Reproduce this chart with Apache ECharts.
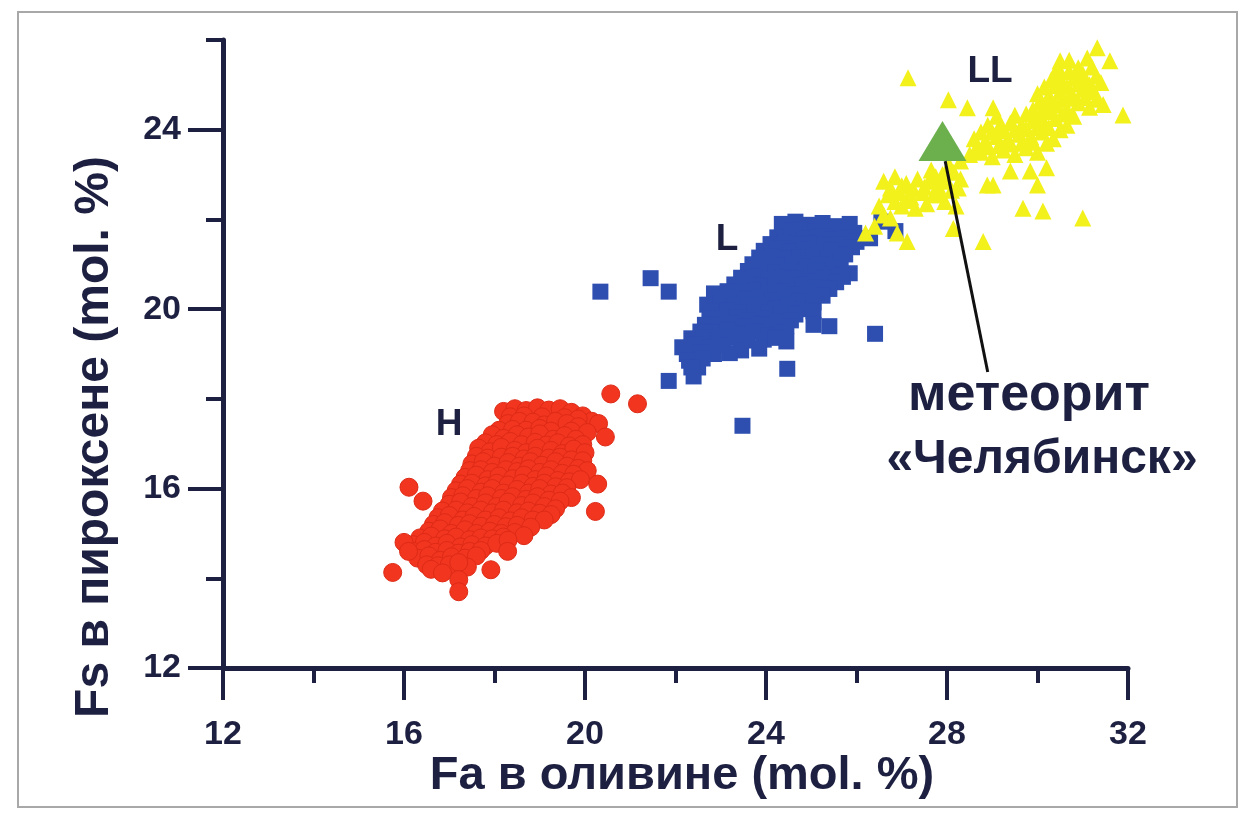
<!DOCTYPE html>
<html>
<head>
<meta charset="utf-8">
<script src="https://cdn.jsdelivr.net/npm/echarts@6/dist/echarts.min.js"></script>
<style>
html,body{margin:0;padding:0;background:#fff;}
#chart{width:1242px;height:813px;}
</style>
</head>
<body>
<div id="chart"></div>
<script>
// ---- data (Fa in olivine, Fs in pyroxene, mol. %) ----
const xTicks = [12, 16, 20, 24, 28, 32];
const yTicks = [12, 16, 20, 24];
const yMinorTicks = [14, 18, 22, 26];

const hPoints = [
  [18.2,17.72],[18.45,17.78],[18.7,17.74],[18.95,17.8],[19.2,17.75],[19.45,17.78],[19.7,17.7],[19.95,17.62],[20.15,17.5],
  [18.35,17.6],[18.65,17.62],[19.05,17.6],[19.55,17.58],[19.85,17.55],
  [18.3,17.45],[18.55,17.5],[18.85,17.48],[19.1,17.42],[19.35,17.5],[19.6,17.45],[19.85,17.38],[20.3,17.45],
  [18.1,17.3],[18.4,17.32],[18.7,17.3],[19.0,17.34],[19.25,17.28],[19.7,17.28],[20.05,17.25],
  [17.95,17.2],[18.2,17.12],[18.5,17.2],[18.75,17.15],[19.0,17.22],[19.3,17.1],[19.55,17.18],[19.8,17.1],[20.45,17.15],
  [17.8,17.02],[18.05,16.98],[18.35,17.05],[18.6,16.98],[18.9,17.03],[19.15,16.97],[19.4,17.02],[19.65,16.95],[19.95,16.98],
  [17.65,16.9],[17.9,16.82],[18.15,16.92],[18.45,16.85],[18.7,16.8],[18.95,16.9],[19.25,16.85],[19.5,16.78],[19.75,16.88],[20.0,16.8],
  [17.6,16.72],[17.85,16.68],[18.15,16.7],[18.4,16.72],[18.65,16.66],[18.9,16.72],[19.2,16.68],[19.45,16.7],[19.7,16.64],[19.95,16.62],
  [17.5,16.55],[17.75,16.6],[18.0,16.5],[18.3,16.58],[18.55,16.5],[18.8,16.6],[19.05,16.52],[19.35,16.6],[19.6,16.5],[19.85,16.45],[20.05,16.4],
  [17.45,16.4],[17.7,16.42],[17.95,16.36],[18.25,16.42],[18.5,16.38],[18.75,16.44],[19.0,16.36],[19.25,16.42],[19.5,16.34],[19.75,16.32],
  [17.35,16.25],[17.6,16.3],[17.85,16.2],[18.1,16.28],[18.4,16.22],[18.65,16.3],[18.9,16.2],[19.15,16.28],[19.4,16.18],[19.65,16.15],[19.9,16.2],
  [17.25,16.1],[17.5,16.12],[17.8,16.06],[18.05,16.12],[18.3,16.08],[18.6,16.12],[18.85,16.05],[19.1,16.12],[19.35,16.04],[19.6,16.02],
  [17.15,15.95],[17.4,16.0],[17.7,15.92],[17.95,16.0],[18.2,15.9],[18.5,15.98],[18.75,15.9],[19.0,16.0],[19.25,15.88],[19.5,15.9],[19.7,15.8],
  [17.05,15.8],[17.3,15.84],[17.6,15.78],[17.85,15.84],[18.15,15.78],[18.4,15.82],[18.7,15.76],[18.95,15.82],[19.2,15.74],[19.45,15.72],
  [17.0,15.65],[17.25,15.7],[17.5,15.6],[17.8,15.68],[18.05,15.6],[18.3,15.7],[18.6,15.62],[18.85,15.68],[19.1,15.6],[19.35,15.55],
  [16.85,15.5],[17.15,15.52],[17.4,15.46],[17.7,15.52],[17.95,15.46],[18.2,15.52],[18.5,15.46],[18.75,15.5],[19.0,15.45],[19.25,15.42],
  [16.75,15.35],[17.0,15.4],[17.3,15.3],[17.55,15.38],[17.8,15.3],[18.1,15.35],[18.35,15.28],[18.6,15.35],[18.85,15.3],[19.1,15.3],
  [16.65,15.2],[16.9,15.24],[17.2,15.18],[17.45,15.22],[17.7,15.16],[18.0,15.2],[18.25,15.15],[18.5,15.18],[18.8,15.14],
  [16.55,15.05],[16.8,15.1],[17.05,15.0],[17.35,15.08],[17.6,15.0],[17.9,15.05],[18.15,15.0],[18.45,15.02],[18.65,14.95],
  [16.35,14.9],[16.6,14.94],[16.9,14.88],[17.15,14.92],[17.45,14.86],[17.7,14.9],[17.95,14.88],[18.2,14.92],
  [16.2,14.75],[16.45,14.8],[16.7,14.72],[16.95,14.78],[17.25,14.7],[17.5,14.75],[17.8,14.72],[18.05,14.78],[18.3,14.85],
  [16.2,14.6],[16.45,14.64],[16.7,14.58],[16.95,14.62],[17.2,14.56],[17.45,14.6],[17.7,14.62],
  [16.3,14.45],[16.55,14.5],[16.8,14.4],[17.05,14.48],[17.35,14.45],[17.6,14.5],
  [16.5,14.3],[16.75,14.28],[17.0,14.3],
  [16.6,14.2],[16.85,14.12],[17.4,14.25],[16.0,14.8],[16.1,14.6],
  [20.57,18.11],[21.16,17.89],[16.11,16.03],[16.42,15.72],[15.75,14.13],[20.28,16.1],[20.23,15.49],
  [18.29,14.6],[17.92,14.19],[17.21,14.35],[17.21,13.97],[17.21,13.7]
];

const lPoints = [
  [24.35,21.9],[24.65,21.95],[24.95,21.88],[25.25,21.92],[25.55,21.85],[25.85,21.9],
  [24.45,21.75],[24.8,21.78],[25.1,21.74],[25.4,21.76],[25.7,21.72],[25.95,21.7],
  [24.25,21.6],[24.55,21.65],[24.85,21.58],[25.15,21.62],[25.45,21.55],[25.75,21.6],[26.0,21.5],
  [24.1,21.45],[24.4,21.48],[24.7,21.44],[25.0,21.46],[25.3,21.42],[25.6,21.44],[25.9,21.38],
  [23.95,21.3],[24.25,21.35],[24.55,21.28],[24.85,21.32],[25.15,21.25],[25.45,21.3],[25.75,21.22],
  [23.85,21.15],[24.15,21.18],[24.45,21.12],[24.75,21.16],[25.05,21.1],[25.35,21.14],[25.65,21.08],
  [23.7,21.0],[24.0,21.05],[24.3,20.98],[24.6,21.02],[24.9,20.95],[25.2,21.0],[25.5,20.92],[25.85,20.8],
  [23.6,20.85],[23.9,20.88],[24.2,20.82],[24.5,20.86],[24.8,20.8],[25.1,20.84],[25.4,20.78],[25.7,20.72],
  [23.45,20.7],[23.75,20.72],[24.05,20.65],[24.35,20.7],[24.65,20.68],[24.95,20.62],[25.25,20.7],[25.55,20.6],
  [23.3,20.55],[23.6,20.58],[23.9,20.52],[24.2,20.56],[24.5,20.5],[24.8,20.54],[25.1,20.48],[25.4,20.45],
  [22.85,20.35],[23.15,20.4],[23.45,20.38],[23.75,20.42],[24.05,20.35],[24.35,20.4],[24.65,20.32],[24.95,20.38],[25.25,20.3],
  [22.95,20.25],[23.25,20.28],[23.55,20.22],[23.85,20.26],[24.15,20.2],[24.45,20.24],[24.75,20.18],[25.05,20.15],
  [22.7,20.1],[23.0,20.12],[23.3,20.05],[23.6,20.1],[23.9,20.08],[24.2,20.02],[24.5,20.1],[24.8,20.0],[25.05,19.95],
  [22.85,19.95],[23.15,19.97],[23.45,19.93],[23.75,19.96],[24.05,19.9],[24.35,19.92],[24.65,19.88],
  [22.75,19.8],[23.05,19.78],[23.35,19.82],[23.65,19.75],[23.95,19.8],[24.25,19.72],[24.55,19.75],[25.05,19.65],[25.4,19.62],
  [22.65,19.65],[22.95,19.64],[23.25,19.67],[23.55,19.62],[23.85,19.65],[24.15,19.6],[24.45,19.62],
  [22.55,19.5],[22.85,19.48],[23.15,19.52],[23.45,19.45],[23.75,19.5],[24.05,19.42],[24.35,19.48],
  [22.35,19.35],[22.65,19.36],[22.95,19.34],[23.25,19.37],[23.6,19.3],[23.95,19.32],[24.2,19.36],
  [22.15,19.15],[22.45,19.22],[22.75,19.15],[23.05,19.2],[23.45,19.08],[23.85,19.12],[24.45,19.28],
  [22.25,19.0],[22.55,19.04],[22.85,19.0],[23.2,19.02],
  [22.3,18.85],[22.5,18.7],[22.6,18.9],[22.35,18.7],[22.4,18.5],
  [20.34,20.39],[21.45,20.69],[21.85,20.39],[21.85,18.4],[23.48,17.4],[24.47,18.67],[26.41,19.45],
  [26.3,21.58],[26.86,21.74],[26.55,21.95]
];

const llPoints = [
  [26.6,22.85],[26.85,22.95],[27.1,22.8],[27.35,22.9],[27.6,22.85],[26.75,22.7],[27.0,22.75],[27.25,22.68],[27.5,22.72],
  [26.7,22.55],[26.95,22.6],[27.2,22.5],[27.45,22.6],[27.7,22.55],[26.85,22.4],[27.1,22.42],[27.55,22.35],
  [27.0,22.3],[27.3,22.25],[26.5,22.3],[26.6,22.1],[26.4,21.85],[26.2,21.7],[26.75,22.03],[27.12,21.51],[26.9,21.7],
  [27.65,23.1],[27.9,23.0],[28.15,23.05],[27.75,22.95],[28.0,22.85],[27.8,22.75],[28.25,22.7],[28.1,22.65],[28.3,22.9],
  [27.85,22.55],[27.95,22.4],[28.2,22.3],[28.05,23.2],[28.14,21.8],[28.8,21.51],[28.3,23.3],
  [28.5,23.45],[28.75,23.5],[29.0,23.4],[29.25,23.55],[29.5,23.45],[29.75,23.6],[30.0,23.5],
  [28.65,23.6],[28.9,23.62],[29.15,23.65],[29.4,23.68],[29.65,23.7],[29.9,23.72],[30.2,23.7],
  [28.6,23.8],[28.85,23.75],[29.1,23.85],[29.35,23.8],[29.6,23.9],[29.85,23.85],[30.1,23.95],[30.35,23.8],
  [28.75,23.95],[29.0,23.95],[29.25,23.98],[29.5,24.0],[29.75,24.02],[30.0,24.05],[30.25,24.05],[30.5,24.0],
  [28.9,24.1],[29.15,24.05],[29.4,24.15],[29.65,24.1],[29.9,24.2],[30.15,24.15],[30.4,24.25],[30.65,24.1],
  [29.1,24.3],[29.5,24.32],[29.75,24.35],[30.05,24.32],[30.3,24.4],[30.55,24.35],[30.8,24.3],
  [29.9,24.45],[30.15,24.5],[30.4,24.55],[30.65,24.45],[30.9,24.6],[31.15,24.5],
  [30.05,24.62],[30.3,24.65],[30.55,24.68],[30.8,24.7],[31.05,24.72],[31.3,24.68],
  [30.0,24.8],[30.25,24.75],[30.5,24.85],[30.75,24.8],[31.0,24.9],[31.25,24.85],
  [30.15,24.95],[30.4,24.98],[30.65,24.95],[30.9,25.02],[31.15,25.0],[31.4,25.05],
  [30.3,25.1],[30.55,25.05],[30.8,25.15],[31.05,25.1],[31.3,25.2],[30.45,25.25],[30.7,25.3],[31.0,25.25],
  [30.45,25.4],[30.9,25.38],[31.2,25.4],[30.7,25.55],[31.1,25.6],
  [31.82,26.2],[31.32,25.83],[31.6,25.54],[30.5,25.54],[31.89,24.33],[31.45,24.56],[27.14,25.16],[28.03,24.67],[28.45,24.49],[29.02,24.49],
  [29.4,23.08],[29.84,23.08],[30.2,23.15],[29.02,22.77],[30.0,22.77],[29.68,22.25],[30.12,22.19],[31.0,22.03],[28.89,22.77]
];

const meteorite = [[27.9, 23.75]];
const pointerLine = [[27.96, 23.3], [28.9, 18.6]];

// ---- chart ----
const ink = '#1d2040';
const font = '"Liberation Sans", Arial, sans-serif';
const chart = echarts.init(document.getElementById('chart'), null, {renderer: 'canvas'});

chart.setOption({
  backgroundColor: '#ffffff',
  animation: false,
  grid: {left: 223, right: 114, top: 40, bottom: 145, containLabel: false},
  xAxis: {
    type: 'value', min: 12, max: 32, interval: 4,
    axisLine: {show: true, onZero: false, lineStyle: {color: ink, width: 5}},
    axisTick: {show: true, length: 32, lineStyle: {color: ink, width: 4}},
    minorTick: {show: true, splitNumber: 2, length: 15, lineStyle: {color: ink, width: 4}},
    axisLabel: {margin: 50, color: ink, fontSize: 34, fontWeight: 'bold', fontFamily: font,
      customValues: xTicks},
    splitLine: {show: false}
  },
  yAxis: [{
    type: 'value', min: 12, max: 26,
    axisLine: {show: true, onZero: false, lineStyle: {color: ink, width: 5}},
    axisTick: {show: true, length: 35, customValues: yTicks, lineStyle: {color: ink, width: 4}},
    axisLabel: {margin: 42, color: ink, fontSize: 34, fontWeight: 'bold', fontFamily: font,
      customValues: yTicks},
    splitLine: {show: false}
  }, {
    type: 'value', min: 12, max: 26, position: 'left',
    axisLine: {show: false},
    axisTick: {show: true, length: 17, customValues: yMinorTicks, lineStyle: {color: ink, width: 4}},
    axisLabel: {show: false},
    splitLine: {show: false}
  }],
  series: [
    {type: 'scatter', name: 'H', data: hPoints, symbol: 'circle', symbolSize: 18,
      itemStyle: {color: '#f2351f', borderColor: '#dd2a16', borderWidth: 1, opacity: 1}},
    {type: 'scatter', name: 'L', data: lPoints, symbol: 'rect', symbolSize: 16,
      itemStyle: {color: '#2e4fb0', opacity: 1}},
    {type: 'scatter', name: 'LL', data: llPoints, symbol: 'triangle', symbolSize: 17,
      itemStyle: {color: '#f3f11c', opacity: 1}},
    {type: 'scatter', name: 'Челябинск', data: meteorite, symbol: 'triangle', symbolSize: [48, 40],
      itemStyle: {color: '#6cb04e', opacity: 1}, z: 5},
    {type: 'line', data: pointerLine, symbol: 'none', lineStyle: {color: '#111', width: 3}, z: 6}
  ],
  graphic: [
    {type: 'rect', shape: {x: 18, y: 12, width: 1219, height: 795}, style: {fill: 'none', stroke: '#a8a8a8', lineWidth: 2}, silent: true, z: 100},
    {type: 'text', x: 682, y: 776, style: {text: 'Fa в оливине (mol. %)', font: 'bold 47px ' + font, fill: ink, textAlign: 'center', textVerticalAlign: 'middle'}},
    {type: 'text', x: 95, y: 437, rotation: Math.PI / 2, style: {text: 'Fs в пироксене (mol. %)', font: 'bold 48px ' + font, fill: ink, textAlign: 'center', textVerticalAlign: 'middle'}},
    {type: 'text', x: 449, y: 425, style: {text: 'H', font: 'bold 37px ' + font, fill: ink, textAlign: 'center', textVerticalAlign: 'middle'}},
    {type: 'text', x: 727, y: 240, style: {text: 'L', font: 'bold 37px ' + font, fill: ink, textAlign: 'center', textVerticalAlign: 'middle'}},
    {type: 'text', x: 990, y: 72, style: {text: 'LL', font: 'bold 37px ' + font, fill: ink, textAlign: 'center', textVerticalAlign: 'middle'}},
    {type: 'text', x: 1029, y: 396, style: {text: 'метеорит', font: 'bold 52px ' + font, fill: ink, textAlign: 'center', textVerticalAlign: 'middle'}},
    {type: 'text', x: 1042, y: 460, style: {text: '«Челябинск»', font: 'bold 48px ' + font, fill: ink, textAlign: 'center', textVerticalAlign: 'middle'}}
  ]
});
</script>
</body>
</html>
